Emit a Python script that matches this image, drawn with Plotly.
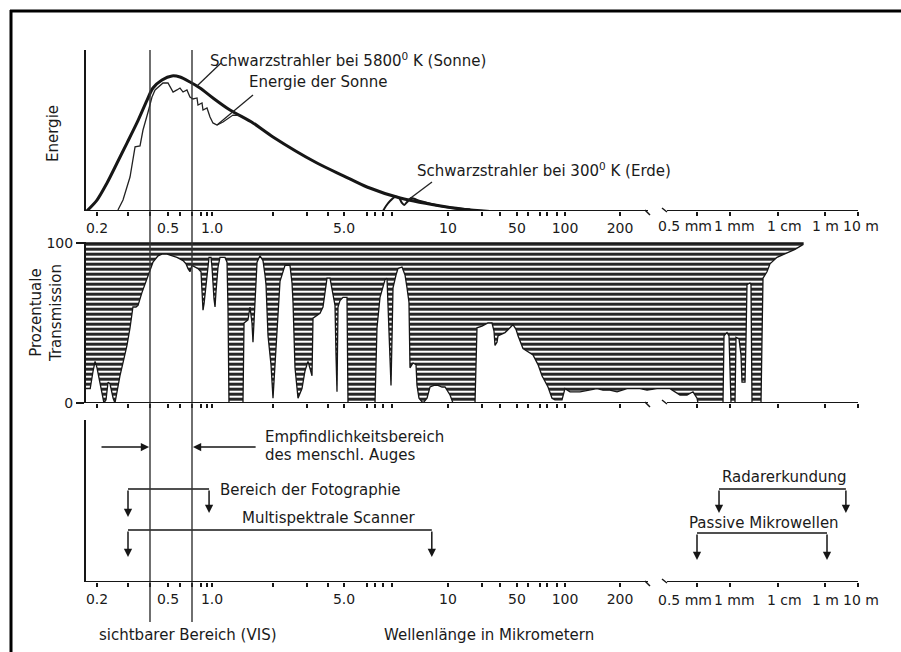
import numpy as np
import plotly.graph_objects as go

W, H = 901, 652
FONT = "DejaVu Sans"
INK = "#161616"

# ---- hand-drawn, broken wavelength scale (micrometres -> axis units) ----
SCALE_WL = [0.1, 0.2, 0.3, 0.4, 0.5, 0.6, 0.7, 0.8, 0.9, 1.0, 2, 3, 4, 5, 6, 7, 8, 9, 10,
            20, 30, 50, 60, 70, 80, 90, 100, 200, 280, 320, 500, 1e3, 1e4, 1e6, 1e7]
SCALE_POS = [44, 97, 128, 150, 168, 180, 192, 201, 207, 212, 273, 307, 328, 344, 367, 375, 383, 392, 448,
             482, 500, 517, 528, 540, 547, 557, 565, 620, 648, 663, 697, 730, 778, 825, 858]


def pos(wl):
    return np.interp(np.log10(np.asarray(wl, dtype=float)), np.log10(SCALE_WL), SCALE_POS)


TICK_WL = [0.2, 0.3, 0.4, 0.5, 0.6, 0.7, 0.8, 0.9, 1.0, 2, 3, 4, 5, 6, 7, 8, 9, 10, 20, 30, 50,
           60, 70, 80, 90, 100, 200, 500, 1e3, 1e4, 1e6, 1e7]
TICK_TEXT = ["0.2", "", "", "0.5", "", "", "", "", "1.0", "", "", "", "5.0", "", "", "", "", "10", "", "", "50",
             "", "", "", "", "100", "200", "0.5 mm", "1 mm", "1 cm", "1 m", "10 m"]

# ---- energy panel ----
BB5800_WL = [0.175, 0.2, 0.228, 0.26, 0.296, 0.337, 0.385, 0.415, 0.464, 0.531, 0.6, 0.682, 0.788,
             1.011, 1.227, 1.593, 2.0, 3.44, 5.0, 6.0, 9.14, 9.98, 15.7]
BB5800_E = [0.0, 0.068, 0.174, 0.298, 0.422, 0.547, 0.689, 0.764, 0.814, 0.839, 0.832, 0.801, 0.764,
            0.702, 0.627, 0.547, 0.460, 0.298, 0.217, 0.149, 0.081, 0.025, 0.006]

SUN_WL = [0.263, 0.281, 0.308, 0.320, 0.329, 0.351, 0.365, 0.390, 0.410, 0.426, 0.453, 0.470, 0.5,
          0.540, 0.573, 0.6, 0.624, 0.656, 0.682, 0.710, 0.754, 0.765, 0.816, 0.832, 0.9, 0.959,
          1.011, 1.058, 1.133, 1.269, 1.375]
SUN_E = [0.006, 0.068, 0.211, 0.317, 0.398, 0.404, 0.503, 0.615, 0.708, 0.752, 0.783, 0.795, 0.795,
         0.739, 0.752, 0.764, 0.739, 0.752, 0.708, 0.696, 0.702, 0.658, 0.671, 0.627, 0.640, 0.584,
         0.547, 0.534, 0.553, 0.596, 0.593]

BB300_WL = [8.0, 8.32, 8.77, 9.05, 9.12, 9.17, 9.21, 9.26, 9.33, 9.49, 9.85, 14.1, 23.9]
BB300_E = [0.0, 0.031, 0.062, 0.087, 0.081, 0.050, 0.037, 0.056, 0.081, 0.062, 0.031, 0.012, 0.0]

# ---- atmospheric transmission (%) ----
TRANS_WL = [0.171, 0.183, 0.190, 0.195, 0.200, 0.208, 0.219, 0.225, 0.231, 0.237, 0.247, 0.253, 0.260,
            0.270, 0.285, 0.296, 0.308, 0.320, 0.333, 0.342, 0.360, 0.390, 0.415, 0.442, 0.464, 0.494,
            0.531, 0.573, 0.624, 0.648, 0.665, 0.682, 0.700, 0.732, 0.765, 0.800, 0.816, 0.832, 0.849,
            0.882, 0.919, 0.939, 0.979, 1.000, 1.023, 1.035, 1.047, 1.071, 1.095, 1.159, 1.186, 1.199,
            1.213, 1.422, 1.439, 1.505, 1.540, 1.575, 1.593, 1.630, 1.668, 1.725, 1.785, 1.826, 1.847,
            1.890, 1.933, 1.955, 2.000, 2.048, 2.098, 2.174, 2.308, 2.449, 2.509, 2.539, 2.600, 2.695,
            2.826, 2.929, 3.041, 3.169, 3.213, 3.257, 3.585, 3.735, 3.839, 3.946, 4.113, 4.230, 4.289,
            4.410, 4.472, 4.535, 4.599, 4.729, 4.931, 5.120, 5.161, 7.000, 7.118, 7.238, 7.609, 8.212,
            8.430, 8.541, 8.654, 8.883, 9.000, 9.017, 9.068, 9.102, 9.171, 9.223, 9.258, 9.292, 9.310,
            9.363, 9.416, 9.433, 9.469, 9.541, 9.613, 9.667, 9.740, 9.814, 9.888, 9.944, 10.42, 11.07,
            17.34, 17.70, 18.06, 20.00, 22.89, 25.05, 26.21, 26.80, 28.04, 28.68, 34.86, 40.52, 44.34,
            48.52, 50.84, 55.23, 60.00, 63.98, 68.23, 72.72, 80.95, 84.86, 87.90, 96.13, 100.0, 106.5,
            120.8, 137.0, 149.7, 161.4, 176.3, 192.6, 217.6, 254.3, 276.7, 303.3, 350.8, 400.0, 438.5,
            474.4, 500.0, 510.6, 863.3, 881.7, 938.9, 979.3, 1049, 1271, 1334, 1540, 1695, 1778, 2054,
            2154, 2260, 2610, 2738, 2873, 4424, 4642, 4870, 5900, 6813, 9531, 24154, 52894, 115840]
TRANS_PCT = [9, 9, 20, 26, 22, 12, 0, 2, 13, 12, 3, 0, 8,
             17, 28, 36, 47, 60, 60, 61, 69, 80, 88, 92, 93, 93,
             92, 91, 89, 87, 84, 82, 86, 85, 84, 82, 70, 58, 62,
             75, 88, 91, 91, 85, 65, 60, 70, 85, 91, 91, 88, 60,
             0, 0, 50, 52, 60, 50, 38, 60, 88, 92, 89, 80, 74,
             42, 30, 24, 3, 25, 50, 76, 86, 86, 75, 63, 22, 3,
             9, 20, 26, 20, 17, 53, 56, 60, 68, 78, 78, 72, 68,
             61, 30, 7, 60, 64, 66, 66, 0, 0, 24, 47, 66, 77,
             78, 60, 42, 11, 40, 72, 80, 84, 85, 80, 72, 63, 22,
             25, 24, 11, 3, 0, 3, 10, 11, 11, 10, 10, 5, 0,
             0, 30, 47, 48, 50, 50, 45, 36, 38, 42, 44, 47, 49,
             46, 42, 34, 32, 30, 24, 17, 10, 3, 2, 2, 9, 7,
             7, 8, 9, 8, 8, 7, 9, 9, 8, 9, 9, 5, 5,
             7, 3, 0, 0, 42, 44, 42, 0, 0, 41, 40, 30, 13, 13,
             40, 74, 75, 74, 0, 0, 40, 78, 82, 87, 91, 94, 96, 99]

# ---- sensing ranges (micrometres) ----
RANGE_NAMES = ["Bereich der Fotographie", "Multispektrale Scanner", "Radarerkundung", "Passive Mikrowellen"]
RANGE_START = [0.3, 0.3, 794, 500]
RANGE_END = [0.94, 9.7, 4.3e6, 1.15e6]
VIS_RANGE = [0.4, 0.7]


def px(x):
    return x / W


def py(y):
    return 1 - y / H


fig = go.Figure()

# energy curves
fig.add_trace(go.Scatter(x=pos(BB5800_WL), y=BB5800_E, mode="lines", xaxis="x", yaxis="y",
                         line=dict(color=INK, width=3, shape="spline", smoothing=0.8), hoverinfo="skip"))
fig.add_trace(go.Scatter(x=pos(SUN_WL), y=SUN_E, mode="lines", xaxis="x", yaxis="y",
                         line=dict(color="#222", width=1.3), hoverinfo="skip"))
fig.add_trace(go.Scatter(x=pos(BB300_WL), y=BB300_E, mode="lines", xaxis="x", yaxis="y",
                         line=dict(color=INK, width=2, shape="spline", smoothing=0.6), hoverinfo="skip"))

# transmission: hatched absorption between curve and 100 %
tx = np.concatenate([pos(TRANS_WL), pos([TRANS_WL[-1], TRANS_WL[0]])])
ty = list(TRANS_PCT) + [100, 100]
fig.add_trace(go.Scatter(x=tx, y=ty, mode="lines", fill="toself", xaxis="x2", yaxis="y2",
                         fillpattern=dict(shape="-", size=5, solidity=0.6, fgcolor="#262626",
                                          fgopacity=1, bgcolor="white"),
                         line=dict(color=INK, width=1.3), hoverinfo="skip"))

# sensing range brackets (panel 3)
BRACKET_LEVEL = [0.574, 0.321, 0.574, 0.302]
BRACKET_TIP = [(0.401, 0.426), (0.154, 0.154), (0.426, 0.426), (0.136, 0.136)]
annotations = []
for s, e, lvl, tips in zip(RANGE_START, RANGE_END, BRACKET_LEVEL, BRACKET_TIP):
    xs = pos([s, e])
    fig.add_trace(go.Scatter(x=xs, y=[lvl, lvl], mode="lines", xaxis="x3", yaxis="y3",
                             line=dict(color=INK, width=1.5), hoverinfo="skip"))
    for xv, tip in zip(xs, tips):
        annotations.append(dict(x=xv, y=tip, ax=xv, ay=lvl, xref="x3", yref="y3", axref="x3", ayref="y3",
                                text="", showarrow=True, arrowhead=2, arrowsize=1.1, arrowwidth=1.5,
                                arrowcolor=INK))
# eye sensitivity arrows pointing at the visible range
EYE_LEVEL = 0.833
for tail, head in [(0.208, 0.395), (1.67, 0.71)]:
    annotations.append(dict(x=float(pos(head)), y=EYE_LEVEL, ax=float(pos(tail)), ay=EYE_LEVEL,
                            xref="x3", yref="y3", axref="x3", ayref="y3", text="", showarrow=True,
                            arrowhead=2, arrowsize=1.1, arrowwidth=1.5, arrowcolor=INK))


# text labels
def label(text, x, y, size=15, xanchor="left", angle=0, align="left"):
    annotations.append(dict(text=text, x=px(x), y=py(y), xref="paper", yref="paper", showarrow=False,
                            xanchor=xanchor, yanchor="middle", textangle=angle, align=align,
                            font=dict(family=FONT, size=size, color="#1a1a1a")))


label("Schwarzstrahler bei 5800<sup>0</sup> K (Sonne)", 208, 60)
label("Energie der Sonne", 247, 82)
label("Schwarzstrahler bei 300<sup>0</sup> K (Erde)", 415, 170)
label("Energie", 53, 134, xanchor="center", angle=-90)
label("Prozentuale<br>Transmission", 46, 313, xanchor="center", angle=-90, align="center")
label("Empfindlichkeitsbereich", 263, 437)
label("des menschl. Auges", 263, 455)
label(RANGE_NAMES[0], 218, 490)
label(RANGE_NAMES[1], 240, 518)
label(RANGE_NAMES[2], 720, 477)
label(RANGE_NAMES[3], 687, 523)
label("sichtbarer Bereich (VIS)", 97, 635)
label("Wellenlänge in Mikrometern", 382, 635)

# long-wave tick labels sit crowded on the hand-drawn axis: set them as centred labels
split = TICK_WL.index(500)
LONG_LABEL_X = [685, 734, 784, 825, 861]
for txt, xc in zip(TICK_TEXT[split:], LONG_LABEL_X):
    for yc in (226, 600):
        label(txt, xc, yc, size=14, xanchor="center", align="center")
axis_text = TICK_TEXT[:split] + [""] * (len(TICK_TEXT) - split)

shapes = []
# visible range lines
for v in VIS_RANGE:
    xv = float(pos(v))
    shapes.append(dict(type="line", xref="x", yref="paper", x0=xv, x1=xv, y0=py(50), y1=py(622),
                       line=dict(color="#333", width=1.4)))
# broken baselines
left_end, right_start, right_end = float(pos(280)), float(pos(320)), float(pos(1e7))
for yref in ["y", "y2", "y3"]:
    shapes.append(dict(type="line", xref="x", yref=yref, x0=85, x1=left_end, y0=0, y1=0,
                       line=dict(color=INK, width=2)))
    shapes.append(dict(type="line", xref="x", yref=yref, x0=right_start + 4, x1=right_end, y0=0, y1=0,
                       line=dict(color=INK, width=2)))
for b in [211, 403, 582]:
    shapes.append(dict(type="line", xref="x", yref="paper", x0=left_end - 3, x1=left_end + 2,
                       y0=py(b - 1), y1=py(b + 4), line=dict(color=INK, width=1.5)))
    shapes.append(dict(type="line", xref="x", yref="paper", x0=right_start - 1, x1=right_start + 4,
                       y0=py(b - 3), y1=py(b + 1), line=dict(color=INK, width=1.5)))
# leader lines of energy labels
for (x0, y0, x1, y1) in [(221, 63, 197, 86), (253, 95, 217, 125), (432, 182, 408, 200)]:
    shapes.append(dict(type="line", xref="paper", yref="paper", x0=px(x0), y0=py(y0), x1=px(x1), y1=py(y1),
                       line=dict(color="#222", width=1.3)))
# page frame
shapes.append(dict(type="line", xref="paper", yref="paper", x0=px(10), x1=1, y0=py(11), y1=py(11),
                   line=dict(color="black", width=3)))
shapes.append(dict(type="line", xref="paper", yref="paper", x0=px(11), x1=px(11), y0=py(10), y1=0,
                   line=dict(color="black", width=3)))

common_x = dict(range=[0, W], domain=[0, 1], showgrid=False, zeroline=False, showline=False,
                ticks="outside", ticklen=4, tickwidth=1.5, tickcolor=INK, tickangle=0,
                tickmode="array", tickvals=[float(v) for v in pos(TICK_WL)], ticktext=axis_text,
                tickfont=dict(family=FONT, size=14, color="#1a1a1a"), fixedrange=True, automargin=False)
common_y = dict(anchor="free", position=85 / W, showline=True, linewidth=2, linecolor=INK,
                showgrid=False, zeroline=False, fixedrange=True, automargin=False)

fig.update_layout(
    width=W, height=H, margin=dict(l=0, r=0, t=0, b=0),
    paper_bgcolor="white", plot_bgcolor="white", showlegend=False,
    xaxis=dict(**common_x, anchor="y"),
    xaxis2=dict(**common_x, anchor="y2", showticklabels=False),
    xaxis3=dict(**common_x, anchor="y3"),
    yaxis=dict(**common_y, domain=[py(211), py(50)], range=[0, 1], ticks="", showticklabels=False),
    yaxis2=dict(**common_y, domain=[py(403), py(241.7)], range=[0, 100.8], ticks="outside", ticklen=8,
                tickwidth=1.5, tickcolor=INK, tickmode="array", tickvals=[0, 100], ticktext=["0", "100"],
                tickfont=dict(family=FONT, size=14, color="#1a1a1a")),
    yaxis3=dict(**common_y, domain=[py(582), py(420)], range=[0, 1], ticks="", showticklabels=False),
    annotations=annotations,
    shapes=shapes,
)

fig.write_html("out.html")
